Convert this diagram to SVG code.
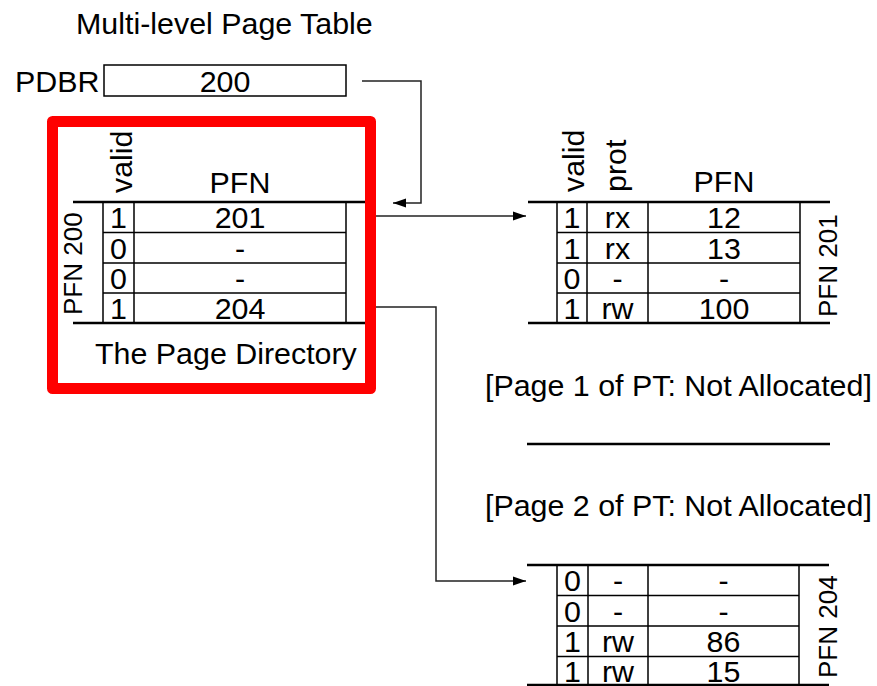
<svg xmlns="http://www.w3.org/2000/svg" width="877" height="686" viewBox="0 0 877 686">
  <style>
    text { font-family: "Liberation Sans", Arial, sans-serif; font-size: 30.4px; fill: #000; }
    .c { text-anchor: middle; }
    .side { font-size: 26px; }
    .thick { stroke: #000; stroke-width: 2.5; fill: none; }
    .thin { stroke: #000; stroke-width: 1.5; fill: none; }
    .conn { stroke: #222; stroke-width: 1.5; fill: none; marker-end: url(#arrow); }
  </style>
  <defs>
    <marker id="arrow" markerUnits="userSpaceOnUse" markerWidth="14" markerHeight="10" refX="13" refY="5" orient="auto">
      <path d="M0,0.5 L13,5 L0,9.5 Z" fill="#000"/>
    </marker>
  </defs>

  <rect width="877" height="686" fill="#fff"/>

  <text x="76" y="34">Multi-level Page Table</text>

  <!-- page directory base register -->
  <g id="pdbr">
    <text x="15" y="92">PDBR</text>
    <rect x="104" y="65" width="242" height="31" fill="#fff" stroke="#000" stroke-width="1.5"/>
    <text class="c" x="225" y="92">200</text>
  </g>

  <!-- page directory (PFN 200) -->
  <g id="page-directory">
    <text transform="translate(132,193) rotate(-90)">valid</text>
    <text class="c" x="240" y="193">PFN</text>
    <line class="thick" x1="73" y1="202" x2="366" y2="202"/>
    <line class="thick" x1="73" y1="323" x2="366" y2="323"/>
    <path class="thin" d="M103,202 V323 M134,202 V323 M346,202 V323 M103,232.5 H346 M103,263 H346 M103,293 H346"/>
    <text class="c" x="118.5" y="228">1</text><text class="c" x="240" y="228">201</text>
    <text class="c" x="118.5" y="258.5">0</text><text class="c" x="240" y="258.5">-</text>
    <text class="c" x="118.5" y="289">0</text><text class="c" x="240" y="289">-</text>
    <text class="c" x="118.5" y="319">1</text><text class="c" x="240" y="319">204</text>
    <text class="side" transform="translate(82,315) rotate(-90)">PFN 200</text>
    <text x="95" y="364">The Page Directory</text>
    <rect x="52.5" y="121.5" width="318" height="267" fill="none" stroke="#f00" stroke-width="11" stroke-linejoin="round"/>
  </g>

  <!-- page of the page table at PFN 201 -->
  <g id="pt-pfn201">
    <text transform="translate(584,192) rotate(-90)">valid</text>
    <text transform="translate(626,192) rotate(-90)">prot</text>
    <text class="c" x="724" y="192">PFN</text>
    <line class="thick" x1="528" y1="202" x2="830" y2="202"/>
    <line class="thick" x1="528" y1="323" x2="830" y2="323"/>
    <path class="thin" d="M557,202 V323 M587,202 V323 M648,202 V323 M800,202 V323 M557,232.5 H800 M557,263 H800 M557,293 H800"/>
    <text class="c" x="572" y="228">1</text><text class="c" x="617.5" y="228">rx</text><text class="c" x="724" y="228">12</text>
    <text class="c" x="572" y="258.5">1</text><text class="c" x="617.5" y="258.5">rx</text><text class="c" x="724" y="258.5">13</text>
    <text class="c" x="572" y="289">0</text><text class="c" x="617.5" y="289">-</text><text class="c" x="724" y="289">-</text>
    <text class="c" x="572" y="319">1</text><text class="c" x="617.5" y="319">rw</text><text class="c" x="724" y="319">100</text>
    <text class="side" transform="translate(837,317) rotate(-90)">PFN 201</text>
  </g>

  <!-- unallocated pages of the page table -->
  <g id="pt-unallocated">
    <text x="485" y="396">[Page 1 of PT: Not Allocated]</text>
    <line class="thick" x1="527" y1="444" x2="830" y2="444"/>
    <text x="485" y="516">[Page 2 of PT: Not Allocated]</text>
  </g>

  <!-- page of the page table at PFN 204 -->
  <g id="pt-pfn204">
    <line class="thick" x1="527" y1="565" x2="829" y2="565"/>
    <line class="thick" x1="527" y1="685" x2="829" y2="685"/>
    <path class="thin" d="M557,565 V686 M588,565 V686 M648,565 V686 M799,565 V686 M557,595.5 H799 M557,626 H799 M557,656.5 H799"/>
    <text class="c" x="572.5" y="591">0</text><text class="c" x="618" y="591">-</text><text class="c" x="723.5" y="591">-</text>
    <text class="c" x="572.5" y="621.5">0</text><text class="c" x="618" y="621.5">-</text><text class="c" x="723.5" y="621.5">-</text>
    <text class="c" x="572.5" y="652">1</text><text class="c" x="618" y="652">rw</text><text class="c" x="723.5" y="652">86</text>
    <text class="c" x="572.5" y="681.5">1</text><text class="c" x="618" y="681.5">rw</text><text class="c" x="723.5" y="681.5">15</text>
    <text class="side" transform="translate(837,678) rotate(-90)">PFN 204</text>
  </g>

  <!-- pointers -->
  <g id="connectors">
    <path class="conn" d="M362,81 H421 V203 H393"/>
    <path class="conn" d="M376,216 H526"/>
    <path class="conn" d="M376,307 H436 V581 H526"/>
  </g>
</svg>
